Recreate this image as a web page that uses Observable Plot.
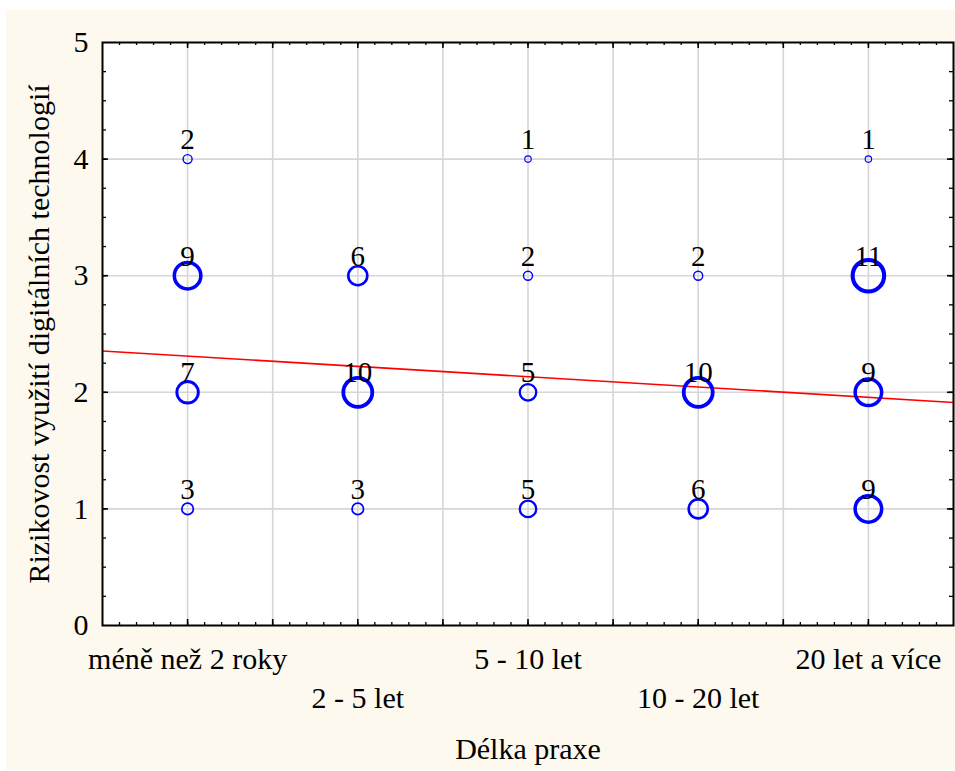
<!DOCTYPE html>
<html>
<head>
<meta charset="utf-8">
<script src="https://cdn.jsdelivr.net/npm/d3@7"></script>
<script src="https://cdn.jsdelivr.net/npm/@observablehq/plot@0.6"></script>
<style>
  html, body { margin: 0; padding: 0; background: #ffffff; }
  #chart { position: absolute; left: 6px; top: 10px; }
</style>
</head>
<body>
<div id="chart"></div>
<script>
// ---- data ----
const categories = ["méně než 2 roky", "2 - 5 let", "5 - 10 let", "10 - 20 let", "20 let a více"];
const xPos   = [1, 1, 1, 1, 2, 2, 2, 3, 3, 3, 3, 4, 4, 4, 5, 5, 5, 5];
const yVals  = [4, 3, 2, 1, 3, 2, 1, 4, 3, 2, 1, 3, 2, 1, 4, 3, 2, 1];
const counts = [2, 9, 7, 3, 6, 10, 3, 1, 2, 5, 5, 2, 10, 6, 1, 11, 9, 9];
const xTicks = [1, 2, 3, 4, 5];
const yTicks = [0, 1, 2, 3, 4, 5];
const xTitle = "Délka praxe";
const yTitle = "Rizikovost využití digitálních technologií";

const data = xPos.map((x, i) => ({x, y: yVals[i], n: counts[i]}));

// weighted linear regression (each cell counted n times)
const N = d3.sum(data, d => d.n);
const mx = d3.sum(data, d => d.n * d.x) / N;
const my = d3.sum(data, d => d.n * d.y) / N;
const sxy = d3.sum(data, d => d.n * (d.x - mx) * (d.y - my));
const sxx = d3.sum(data, d => d.n * (d.x - mx) ** 2);
const slope = sxy / sxx;
const intercept = my - slope * mx;

const xDomain = [0.5, 5.5];
const yDomain = [0, 5];
const regLine = xDomain.map(x => ({x, y: intercept + slope * x}));

const W = 949, H = 760;
const mL = 96, mR = 2, mT = 32, mB = 145;
const fw = W - mL - mR, fh = H - mT - mB;

const xGrid = d3.range(2, 11).map(i => i / 2);          // 1, 1.5, ... 5
const yGrid = [1, 2, 3, 4];
const xMinor = d3.range(6, 55).map(i => i / 10);
const xMajor = d3.range(2, 11).map(i => i / 2);
const yMinor = d3.range(1, 20).map(i => i / 4);
const yMajor = [1, 2, 3, 4];

const font = "'Liberation Serif', 'Times New Roman', serif";
const fs = 30;

const chart = Plot.plot({
  width: W, height: H,
  marginLeft: mL, marginRight: mR, marginTop: mT, marginBottom: mB,
  x: {domain: xDomain, axis: null},
  y: {domain: yDomain, axis: null},
  r: {type: "linear", domain: [0, 11], range: [2, 15.75]},
  style: {background: "#fdf9ef", fontFamily: font, color: "black", overflow: "visible"},
  marks: [
    Plot.frame({fill: "white"}),
    Plot.ruleX(xGrid, {x: d => d, stroke: "#d6d6d6", strokeWidth: 1.6}),
    Plot.ruleY(yGrid, {y: d => d, stroke: "#d6d6d6", strokeWidth: 1.6}),
    // inward ticks: bottom & top
    Plot.ruleX(xMinor, {x: d => d, insetTop: fh - 3, stroke: "black", strokeWidth: 1.3}),
    Plot.ruleX(xMinor, {x: d => d, insetBottom: fh - 3, stroke: "black", strokeWidth: 1.3}),
    Plot.ruleX(xMajor, {x: d => d, insetTop: fh - 6, stroke: "black", strokeWidth: 1.6}),
    Plot.ruleX(xMajor, {x: d => d, insetBottom: fh - 6, stroke: "black", strokeWidth: 1.6}),
    // inward ticks: left & right
    Plot.ruleY(yMinor, {y: d => d, insetRight: fw - 4, stroke: "black", strokeWidth: 1.3}),
    Plot.ruleY(yMinor, {y: d => d, insetLeft: fw - 4, stroke: "black", strokeWidth: 1.3}),
    Plot.ruleY(yMajor, {y: d => d, insetRight: fw - 6, stroke: "black", strokeWidth: 1.6}),
    Plot.ruleY(yMajor, {y: d => d, insetLeft: fw - 6, stroke: "black", strokeWidth: 1.6}),
    // regression line
    Plot.line(regLine, {x: "x", y: "y", stroke: "#ff0000", strokeWidth: 1.6}),
    // bubbles
    Plot.dot(data, {x: "x", y: "y", r: "n", stroke: "#0000ff", fill: "none",
      strokeWidth: d => 0.3 * d.n + 0.8}),
    // count labels
    Plot.text(data, {x: "x", y: "y", text: d => String(d.n), lineAnchor: "bottom",
      dy: -10, fontSize: 29, fill: "black"}),
    Plot.frame({stroke: "black", strokeWidth: 2}),
    // y tick labels
    Plot.text(yTicks, {y: d => d, text: d => String(d), frameAnchor: "left",
      textAnchor: "end", lineAnchor: "middle", dx: -14, fontSize: fs, fill: "black"}),
    // x tick labels (staggered)
    Plot.text(xTicks.filter(d => d % 2 === 1), {x: d => d, text: d => categories[d - 1],
      frameAnchor: "bottom", lineAnchor: "bottom", dy: 43, fontSize: fs, fill: "black"}),
    Plot.text(xTicks.filter(d => d % 2 === 0), {x: d => d, text: d => categories[d - 1],
      frameAnchor: "bottom", lineAnchor: "bottom", dy: 82, fontSize: fs, fill: "black"}),
    // axis titles
    Plot.text([xTitle], {frameAnchor: "bottom", lineAnchor: "bottom", dy: 133,
      fontSize: fs, fill: "black"}),
    Plot.text([yTitle], {frameAnchor: "left", rotate: -90, textAnchor: "middle",
      lineAnchor: "bottom", dx: -54, fontSize: fs, fill: "black"})
  ]
});
document.getElementById("chart").appendChild(chart);
</script>
</body>
</html>
